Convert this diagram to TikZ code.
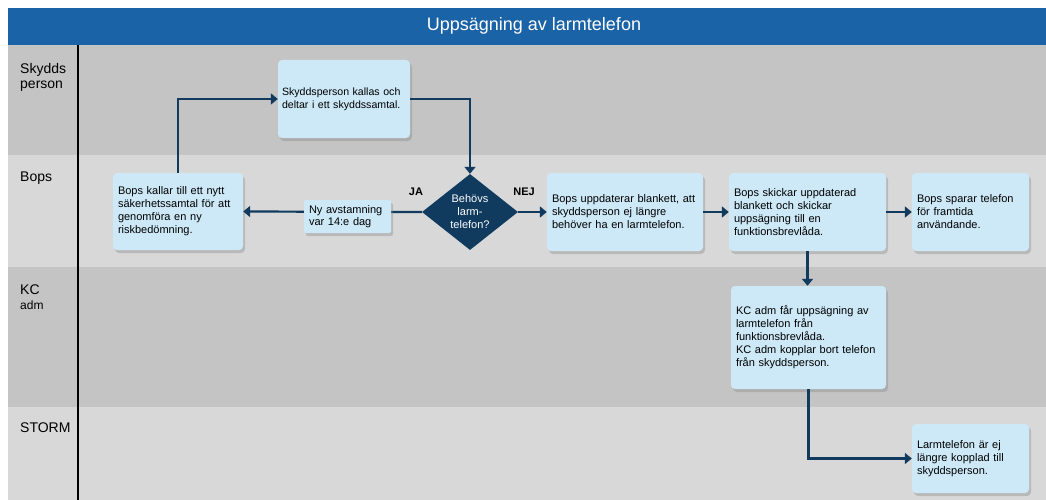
\documentclass[tikz,border=0pt]{standalone}
\usepackage{fontspec}
\setmainfont{Liberation Sans}
\usetikzlibrary{arrows.meta,shadows,shapes.geometric}

\definecolor{titelbla}{RGB}{27,99,167}
\definecolor{morkbla}{RGB}{16,58,94}
\definecolor{ljusbla}{RGB}{205,233,247}
\definecolor{morkgra}{RGB}{196,196,196}
\definecolor{ljusgra}{RGB}{216,216,216}

\tikzset{
  ruta/.style={fill=ljusbla, rounded corners=4pt, align=left, inner xsep=5pt, inner ysep=0pt,
    font=\fontsize{11}{13}\selectfont,
    drop shadow={shadow xshift=2pt, shadow yshift=-3pt, opacity=0.35}},
  beslut/.style={diamond, fill=morkbla, text=white, align=center, inner sep=0pt,
    font=\fontsize{11}{13}\selectfont},
  pil/.style={draw=morkbla, line width=2.2pt, -{Triangle[length=7pt,width=11pt]}},
  bana/.style={anchor=north west, align=left, inner sep=0pt, font=\fontsize{14}{15}\selectfont},
  svar/.style={font=\bfseries\fontsize{11}{13}\selectfont, inner sep=0pt},
}

\begin{document}
\begin{tikzpicture}[x=1pt, y=-1pt]
    \useasboundingbox (0,0) rectangle (1046,500);
    \fill[white] (0,0) rectangle (1046,500);
    % banor
    \fill[titelbla] (8,8) rectangle (1046,45);
    \fill[morkgra] (8,45) rectangle (1046,155);
    \fill[ljusgra] (8,155) rectangle (1046,267);
    \fill[morkgra] (8,267) rectangle (1046,407);
    \fill[ljusgra] (8,407) rectangle (1046,500);
    \draw[black, line width=1.2pt] (78,45) -- (78,500);
    \node[text=white, font=\fontsize{18}{20}\selectfont] (titel) at (534,26) {Uppsägning av larmtelefon};
    \node[bana] (skydds) at (20,63) {Skydds\\person};
    \node[bana] (bops) at (20,172) {Bops};
    \node[bana] (kc) at (20,285) {KC\\\fontsize{12}{14}\selectfont adm};
    \node[bana] (storm) at (20,423) {STORM};

    % steg
    \node[ruta, inner xsep=4pt, text width=124pt, minimum height=78pt,
        font=\fontsize{10.6}{13}\selectfont] (kallas) at (344,99)
        {Skyddsperson kallas och\\deltar i ett skyddssamtal.};
    \node[ruta, text width=120pt, minimum height=77pt] (nytt) at (178,211.5)
        {Bops kallar till ett nytt\\säkerhetssamtal för att\\genomföra en ny\\riskbedömning.};
    \node[beslut, minimum width=96pt, minimum height=76pt] (behovs) at (470,212)
        {Behövs\\larm-\\telefon?};
    \node[ruta, text width=146pt, minimum height=78pt] (uppdat) at (625,212)
        {Bops uppdaterar blankett, att\\skyddsperson ej längre\\behöver ha en larmtelefon.};
    \node[ruta, text width=147pt, minimum height=78pt] (skickar) at (807.5,212)
        {Bops skickar uppdaterad\\blankett och skickar\\uppsägning till en\\funktionsbrevlåda.};
    \node[ruta, text width=107pt, minimum height=78pt] (sparar) at (970.5,212)
        {Bops sparar telefon\\för framtida\\användande.};
    \node[ruta, text width=145pt, minimum height=103pt] (kcadm) at (808.5,337.5)
        {KC adm får uppsägning av\\larmtelefon från\\funktionsbrevlåda.\\KC adm kopplar bort telefon\\från skyddsperson.};
    \node[ruta, text width=107pt, minimum height=69pt] (larm) at (970.5,458.5)
        {Larmtelefon är ej\\längre kopplad till\\skyddsperson.};
    \node[svar] (ja) at (416,192) {JA};
    \node[svar] (nej) at (524,192) {NEJ};

    % pilar
    \draw[pil] (nytt.north) |- (kallas.west);
    \draw[pil] (kallas.east) -| (behovs.north);
    \draw[pil] (behovs.west) -- (nytt.east);
    \draw[pil] (behovs.east) -- (uppdat.west);
    \draw[pil] (uppdat.east) -- (skickar.west);
    \draw[pil] (skickar.east) -- (sparar.west);
    \draw[pil] (skickar.south) -- (skickar.south |- kcadm.north);
    \draw[pil] (kcadm.south) |- (larm.west);

    \node[ruta, rounded corners=2pt, text width=77pt, minimum height=33pt,
        font=\fontsize{11}{12}\selectfont] (avst) at (347.5,216.5) {Ny avstamning\\var 14:e dag};
\end{tikzpicture}
\end{document}
